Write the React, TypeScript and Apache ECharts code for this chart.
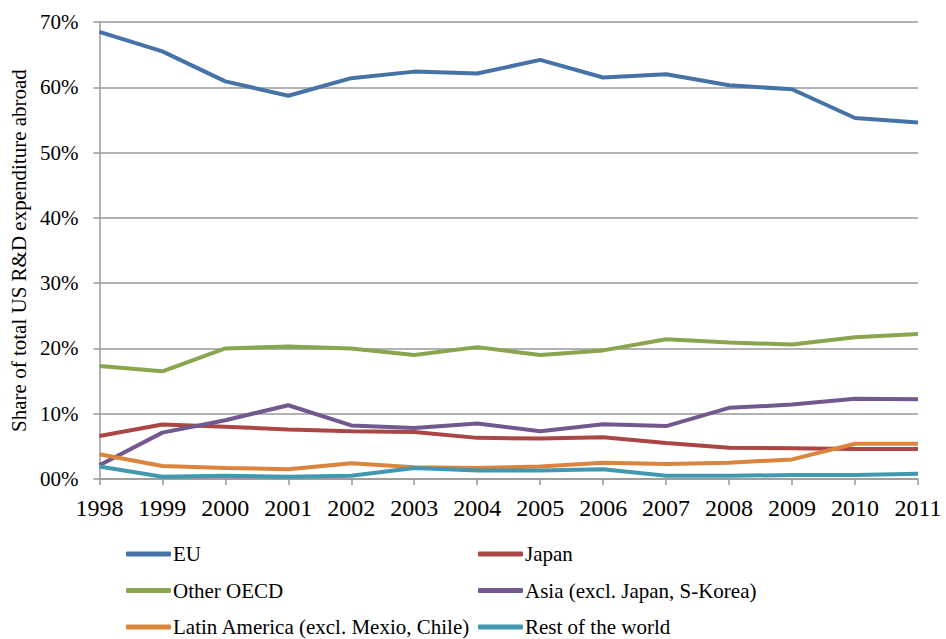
import React, { useEffect, useRef } from "react";
import * as echarts from "echarts";

const years = ["1998", "1999", "2000", "2001", "2002", "2003", "2004", "2005", "2006", "2007", "2008", "2009", "2010", "2011"];

const eu = [68.5, 65.5, 60.9, 58.7, 61.4, 62.4, 62.1, 64.2, 61.5, 62.0, 60.3, 59.7, 55.3, 54.6];
const japan = [6.6, 8.35, 8.0, 7.6, 7.3, 7.2, 6.3, 6.2, 6.4, 5.5, 4.8, 4.7, 4.6, 4.6];
const otherOecd = [17.3, 16.5, 20.0, 20.3, 20.0, 19.0, 20.2, 19.0, 19.7, 21.4, 20.9, 20.6, 21.7, 22.2];
const asia = [2.1, 7.1, 9.0, 11.3, 8.2, 7.8, 8.5, 7.3, 8.4, 8.1, 10.9, 11.4, 12.3, 12.2];
const latinAmerica = [3.8, 2.0, 1.7, 1.5, 2.4, 1.8, 1.7, 1.9, 2.5, 2.3, 2.5, 3.0, 5.4, 5.4];
const restOfWorld = [1.9, 0.35, 0.5, 0.35, 0.5, 1.7, 1.3, 1.3, 1.5, 0.5, 0.5, 0.6, 0.6, 0.8];

const seriesNames = [
  "EU",
  "Japan",
  "Other OECD",
  "Asia (excl. Japan, S-Korea)",
  "Latin America (excl. Mexio, Chile)",
  "Rest of the world",
];
const seriesData = [eu, japan, otherOecd, asia, latinAmerica, restOfWorld];
const colors = ["#4572A7", "#AA4643", "#89A54E", "#71588F", "#DB843D", "#4198AF"];

const FONT = "Liberation Serif, serif";

export default function App() {
  const ref = useRef<HTMLDivElement>(null);
  useEffect(() => {
    if (!ref.current) return;
    const chart = echarts.init(ref.current, undefined, { renderer: "svg" });
    const legendCommon = {
      orient: "vertical" as const,
      icon: "roundRect",
      itemWidth: 45,
      itemHeight: 5,
      itemGap: 15.5,
      padding: 0,
      height: 120,
      textStyle: { fontFamily: FONT, fontSize: 21, color: "#000", lineHeight: 21, padding: [0, 0, 0, -3] },
      selectedMode: false,
    };
    chart.setOption({
      animation: false,
      color: colors,
      grid: { left: 97, right: 28, top: 22, bottom: 160, containLabel: false },
      legend: [
        { ...legendCommon, left: 126, top: 543.5, data: [seriesNames[0], seriesNames[2], seriesNames[4]] },
        { ...legendCommon, left: 478, top: 543.5, data: [seriesNames[1], seriesNames[3], seriesNames[5]] },
      ],
      xAxis: {
        type: "category",
        data: years,
        boundaryGap: false,
        axisLine: { show: true, lineStyle: { color: "#999", width: 1.5 } },
        axisTick: { show: true, alignWithLabel: true, length: 6, lineStyle: { color: "#999", width: 1.5 } },
        axisLabel: { fontFamily: FONT, fontSize: 24, color: "#000", margin: 17 },
        splitLine: { show: false },
      },
      yAxis: {
        type: "value",
        min: 0,
        max: 70,
        interval: 10,
        name: "Share of total US R&D expenditure abroad",
        nameLocation: "middle",
        nameGap: 67,
        nameTextStyle: { fontFamily: FONT, fontSize: 21, color: "#000" },
        axisLine: { show: true, lineStyle: { color: "#999", width: 1.5 } },
        axisTick: { show: true, length: 6, lineStyle: { color: "#999", width: 1.5 } },
        axisLabel: {
          fontFamily: FONT,
          fontSize: 21,
          color: "#000",
          margin: 21,
          formatter: (v: number) => (v === 0 ? "00%" : v + "%"),
        },
        splitLine: { show: true, lineStyle: { color: "#999", width: 1.5 } },
      },
      series: seriesNames.map((name, i) => ({
        name,
        type: "line",
        data: seriesData[i],
        showSymbol: false,
        symbol: "none",
        lineStyle: { width: 4, color: colors[i] },
        itemStyle: { color: colors[i] },
        emphasis: { disabled: true },
      })),
    });
    return () => chart.dispose();
  }, []);
  return (
    <div
      ref={ref}
      style={{ position: "fixed", left: 0, top: 0, width: 946, height: 639, background: "#fff" }}
    />
  );
}
